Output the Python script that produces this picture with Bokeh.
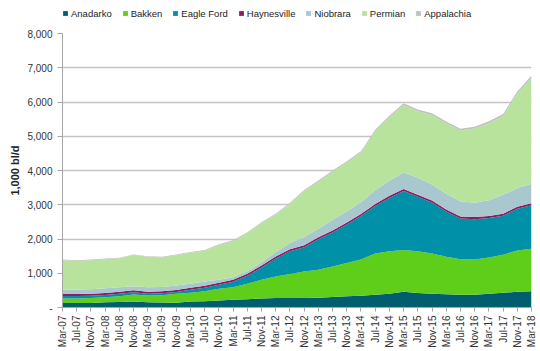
import math
from bokeh.plotting import figure
from bokeh.layouts import column
from bokeh.models import (Range1d, FixedTicker, Legend, LegendItem, ColumnDataSource)
from bokeh.embed import file_html
from bokeh.resources import INLINE

# ---- data (1,000 b/d), sampled every 4 months ----
tick_labels = ["Mar-07", "Jul-07", "Nov-07", "Mar-08", "Jul-08", "Nov-08", "Mar-09", "Jul-09",
               "Nov-09", "Mar-10", "Jul-10", "Nov-10", "Mar-11", "Jul-11", "Nov-11", "Mar-12",
               "Jul-12", "Nov-12", "Mar-13", "Jul-13", "Nov-13", "Mar-14", "Jul-14", "Nov-14",
               "Mar-15", "Jul-15", "Nov-15", "Mar-16", "Jul-16", "Nov-16", "Mar-17", "Jul-17",
               "Nov-17", "Mar-18"]
month_index = [0, 4, 8, 12, 16, 20, 24, 28, 32, 36, 40, 44, 48, 52, 56, 60, 64, 68, 72, 76,
               80, 84, 88, 92, 96, 100, 104, 108, 112, 116, 120, 124, 128, 132]

anadarko = [130, 130, 135, 150, 160, 175, 155, 145, 140, 175, 184, 204, 225, 242, 263, 275,
            275, 275, 283, 305, 330, 345, 370, 400, 460, 420, 405, 390, 370, 375, 400, 428,
            460, 476]
bakken = [132, 135, 140, 150, 170, 203, 194, 210, 258, 254, 292, 342, 368, 450, 546, 630,
          700, 775, 817, 895, 970, 1055, 1210, 1240, 1220, 1220, 1175, 1090, 1040, 1025, 1060,
          1112, 1205, 1238]
eagle_ford = [73, 70, 70, 67, 70, 66, 51, 60, 52, 86, 97, 115, 156, 232, 357, 524,
              665, 710, 890, 990, 1120, 1270, 1380, 1560, 1720, 1590, 1484, 1320, 1190, 1180,
              1150, 1140, 1215, 1272]
haynesville = [60, 60, 60, 60, 60, 60, 60, 60, 60, 60, 60, 60, 60, 60, 60, 60,
               60, 60, 60, 60, 60, 60, 60, 60, 60, 60, 60, 60, 60, 60, 60, 60, 60, 60]
niobrara = [129, 129, 130, 136, 130, 116, 132, 126, 130, 117, 126, 88, 76, 76, 97, 126,
            180, 240, 250, 310, 320, 340, 400, 440, 480, 500, 466, 460, 440, 420, 460, 550,
            550, 566]
permian = [856, 836, 845, 847, 845, 910, 888, 859, 885, 908, 901, 1016, 1050, 1115, 1142, 1095,
           1150, 1340, 1375, 1405, 1430, 1450, 1725, 1855, 1970, 1940, 2030, 2060, 2070, 2165,
           2250, 2300, 2755, 3092]
appalachia = [20, 20, 20, 20, 20, 20, 20, 20, 20, 20, 20, 20, 25, 25, 25, 30,
              30, 30, 35, 35, 40, 40, 45, 45, 50, 50, 50, 50, 50, 55, 60, 60, 65, 70]

series_names = ["Anadarko", "Bakken", "Eagle Ford", "Haynesville", "Niobrara", "Permian", "Appalachia"]
series_colors = ["#005E6E", "#5ECE1A", "#0090A8", "#92195F", "#A8C7CF", "#B7E39D", "#C0C0C0"]

source = ColumnDataSource(dict(
    x=month_index,
    Anadarko=anadarko, Bakken=bakken, **{"Eagle Ford": eagle_ford},
    Haynesville=haynesville, Niobrara=niobrara, Permian=permian, Appalachia=appalachia))

FONT = "Liberation Sans"

# ---- legend strip (top) ----
lf = figure(width=540, height=20, output_backend="svg", toolbar_location=None,
            x_range=Range1d(0, 1), y_range=Range1d(0, 1),
            x_axis_location=None, y_axis_location=None,
            min_border_left=0, min_border_right=0, min_border_top=0, min_border_bottom=0)
lf.outline_line_color = None
lf.xgrid.visible = False
lf.ygrid.visible = False
# zero-area placeholder renderers, used only to give the legend its swatches
placeholder = ColumnDataSource(dict(x=[0], y1=[0], y2=[0]))
legend_renderers = [lf.varea(x="x", y1="y1", y2="y2", fill_color=c, source=placeholder)
                    for c in series_colors]
legend = Legend(items=[LegendItem(label=n, renderers=[r])
                       for n, r in zip(series_names, legend_renderers)],
                orientation="horizontal", location=(0, 0),
                glyph_width=6, glyph_height=6, label_standoff=3, spacing=10,
                padding=0, margin=0, border_line_color=None, background_fill_alpha=0,
                label_text_font=FONT, label_text_font_size="9.5px", label_text_color="#222222",
                label_height=14)
lf.add_layout(legend, "center")

# ---- main chart ----
p = figure(width=540, height=331, output_backend="svg", toolbar_location=None,
           x_range=Range1d(0, 132), y_range=Range1d(0, 8000),
           min_border_left=62, min_border_right=9, min_border_top=13, min_border_bottom=44)
p.outline_line_color = None
p.background_fill_color = "white"

p.varea_stack(stackers=series_names, x="x", color=series_colors, source=source)

p.xgrid.visible = False
p.ygrid.grid_line_color = "#C4C4C4"
p.ygrid.grid_line_width = 1.5
p.ygrid.ticker = FixedTicker(ticks=list(range(1000, 8001, 1000)))

yax = p.yaxis[0]
yax.ticker = FixedTicker(ticks=list(range(0, 8001, 1000)))
yax.major_label_overrides = {0: "-", 1000: "1,000", 2000: "2,000", 3000: "3,000", 4000: "4,000",
                             5000: "5,000", 6000: "6,000", 7000: "7,000", 8000: "8,000"}
yax.axis_label = "1,000 bl/d"
yax.axis_label_text_font = FONT
yax.axis_label_text_font_style = "bold"
yax.axis_label_text_font_size = "11px"
yax.axis_label_text_color = "#222222"
yax.axis_label_standoff = 3
yax.major_label_text_font = FONT
yax.major_label_text_font_size = "10px"
yax.major_label_text_color = "#333333"
yax.major_label_standoff = 5
yax.axis_line_color = "#A6A6A6"
yax.major_tick_line_color = "#A6A6A6"
yax.major_tick_out = 5
yax.major_tick_in = 0
yax.minor_tick_line_color = None

xax = p.xaxis[0]
xax.ticker = FixedTicker(ticks=month_index)
xax.major_label_overrides = {m: lab for m, lab in zip(month_index, tick_labels)}
xax.major_label_orientation = math.pi / 2
xax.major_label_text_font = FONT
xax.major_label_text_font_size = "10px"
xax.major_label_text_color = "#333333"
xax.major_label_standoff = 4
xax.axis_line_color = "#A6A6A6"
xax.major_tick_line_color = "#A6A6A6"
xax.major_tick_out = 4
xax.major_tick_in = 0
xax.minor_tick_line_color = None

layout = column(lf, p, spacing=0)
open("out.html", "w").write(file_html(layout, INLINE))
